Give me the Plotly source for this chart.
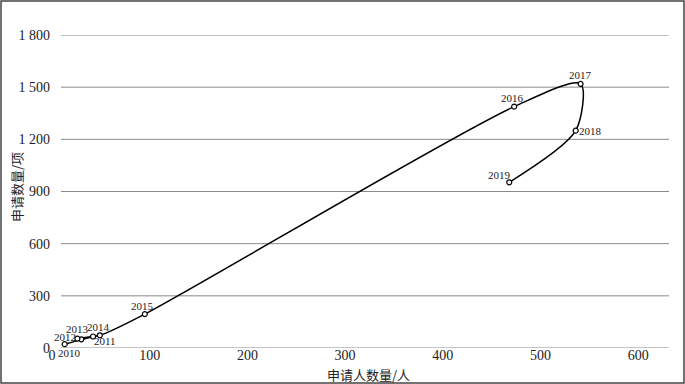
import plotly.graph_objects as go

years = ["2010", "2011", "2012", "2013", "2014", "2015", "2016", "2017", "2018", "2019"]
applicants = [13, 42, 30, 26, 49, 95, 473, 541, 536, 468]
applications = [22, 66, 50, 54, 73, 195, 1388, 1519, 1250, 953]

# label offsets from each marker, in pixels (right / up)
label_dx = [5, 12, -16, 0, -1, -2, -2, 0, 15, -10]
label_dy = [-9, -4, 2, 10, 8, 8, 9, 9, 0, 7]

y_ticks = [0, 300, 600, 900, 1200, 1500, 1800]
y_tick_text = ["0", "300", "600", "900", "1 200", "1 500", "1 800"]
x_ticks = [0, 100, 200, 300, 400, 500, 600]

serif = "Liberation Serif, Times New Roman, serif"
cjk = "Noto Sans CJK SC"

fig = go.Figure()
fig.add_trace(go.Scatter(
    x=applicants, y=applications,
    mode="lines+markers",
    line=dict(color="black", width=1.5, shape="spline", smoothing=0.8),
    marker=dict(size=5, color="white", line=dict(color="black", width=1.2)),
    cliponaxis=False,
    showlegend=False,
))

L, R, T, B = 52, 16, 35, 36
W, H = 685, 384
pw, ph = W - L - R, H - T - B
grid_left_px = 61


def px_x(p):
    return (p - L) / pw


def px_y(p):
    return (H - p - B) / ph


annotations = [
    dict(text=yr, x=xv, y=yv, xref="x", yref="y", xshift=dx, yshift=dy,
         xanchor="center", yanchor="middle", showarrow=False,
         font=dict(family=serif, size=11, color="#222"))
    for yr, xv, yv, dx, dy in zip(years, applicants, applications, label_dx, label_dy)
]
annotations += [
    dict(text="申请人数量/人", xref="paper", yref="paper",
         x=px_x(368), y=px_y(374), xanchor="center", yanchor="middle",
         showarrow=False, font=dict(family=cjk, size=13, color="#222")),
    dict(text="申请数量/项", xref="paper", yref="paper",
         x=px_x(16), y=px_y(187), xanchor="center", yanchor="middle",
         textangle=-90, showarrow=False, font=dict(family=cjk, size=13, color="#222")),
]

shapes = [
    dict(type="line", xref="paper", yref="y", x0=px_x(grid_left_px), x1=1, y0=t, y1=t,
         line=dict(color="#8a8a8a", width=1), layer="below")
    for t in y_ticks
]
shapes.append(dict(
    type="rect", xref="paper", yref="paper",
    x0=px_x(1), x1=px_x(W - 1),
    y0=px_y(H - 1), y1=px_y(1),
    line=dict(color="#444", width=1.5), fillcolor="rgba(0,0,0,0)",
))

fig.update_layout(
    width=W, height=H,
    margin=dict(l=L, r=R, t=T, b=B, autoexpand=False),
    paper_bgcolor="white", plot_bgcolor="white",
    font=dict(family=serif, size=14, color="#222"),
    xaxis=dict(
        range=[0, 631.5], tickvals=x_ticks, showgrid=False, zeroline=False,
        showline=False, ticks="", automargin=False, ticklabelstandoff=-3,
    ),
    yaxis=dict(
        range=[0, 1800], tickvals=y_ticks, ticktext=y_tick_text,
        showgrid=False, zeroline=False,
        showline=False, ticks="", ticklabelstandoff=1, automargin=False,
    ),
    annotations=annotations,
    shapes=shapes,
)

fig.write_html("out.html",
               config={"displayModeBar": False},
               post_script="document.body.style.margin='0';document.body.style.overflow='hidden';")
